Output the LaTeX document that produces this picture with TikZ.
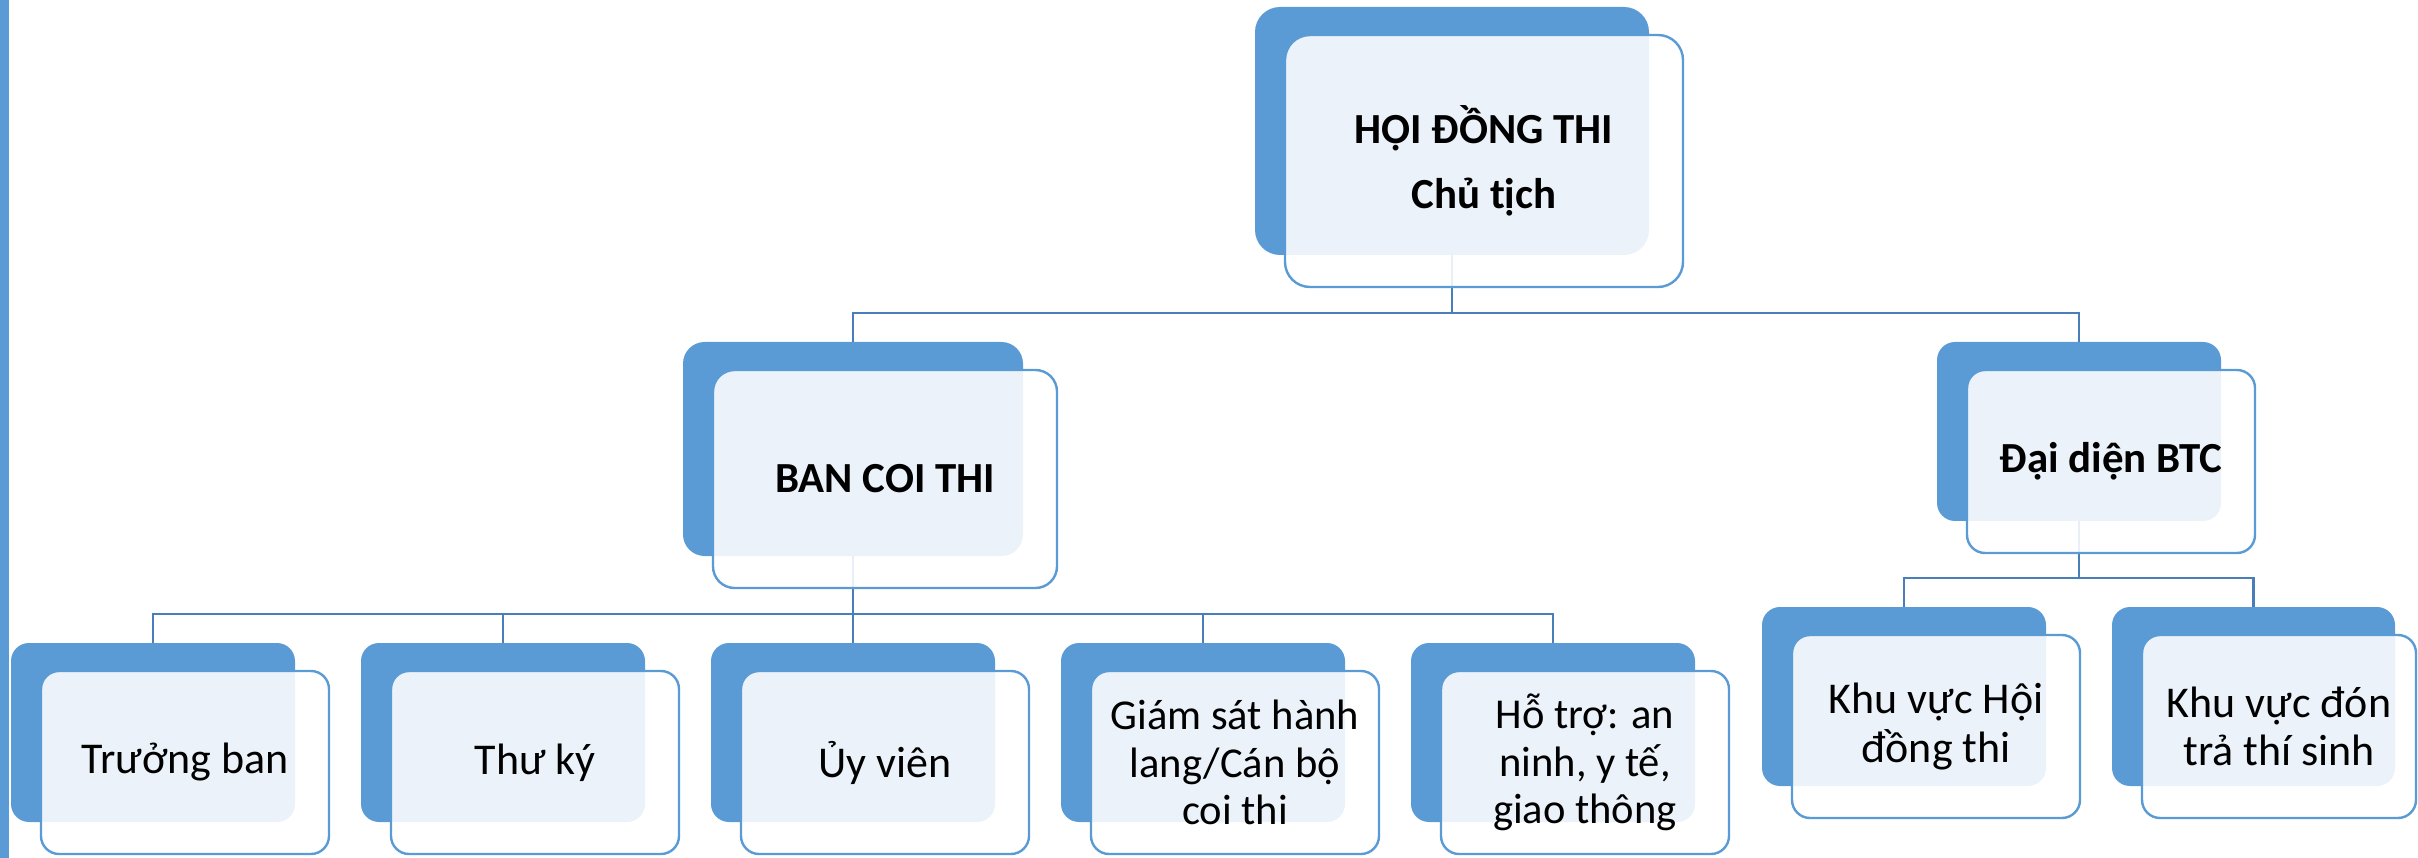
\documentclass[tikz,border=0pt]{standalone}
\usepackage{fontspec}
\setmainfont{Carlito}
\definecolor{bblue}{HTML}{5B9BD5}
\definecolor{cblue}{HTML}{4A7EBB}
\pgfdeclarelayer{back}
\pgfdeclarelayer{conn}
\pgfsetlayers{back,conn,main}
\tikzset{
  backbox/.style={rectangle, fill=bblue, draw=none, inner sep=0pt, outer sep=0pt},
  frontbox/.style={rectangle, fill=white, fill opacity=0.88, text opacity=1, draw=bblue, line width=0.024cm, inner sep=0pt, outer sep=0pt, align=center},
  connline/.style={draw=cblue, line width=0.028cm},
  fbig/.style={font=\fontsize{12.5}{15}\selectfont},
  fmid/.style={font=\fontsize{12.5}{13.8}\selectfont},
  fsmall/.style={font=\fontsize{12.1}{13.5}\selectfont},
  fbold/.style={font=\bfseries\fontsize{12.2}{18.4}\selectfont},
}
% #1 name, #2 left, #3 top, #4 width, #5 height, #6 front width, #7 style, #8 text
\newcommand\orgbox[8]{%
  \begin{pgfonlayer}{back}
    \node[backbox, minimum width=#4*0.01cm, minimum height=#5*0.01cm, rounded corners=#5*0.001cm] (#1) at ({#2+#4/2},{#3+#5/2}) {};
  \end{pgfonlayer}
  \node[frontbox, #7, minimum width=#6*0.01cm, minimum height=(#5+4)*0.01cm, rounded corners=#5*0.001cm] (#1f) at ({#2+30+#6/2},{#3+28+(#5+4)/2}) {#8};
}
\begin{document}
\begin{tikzpicture}[x=0.01cm, y=-0.01cm]
\useasboundingbox (0,0) rectangle (2418,858);
\fill[bblue] (0,0) rectangle (9,858);

\orgbox{top}{1255}{7}{394}{248}{398}{fbold}{HỘI ĐỒNG THI\\Chủ tịch}
\orgbox{ban}{683}{342}{340}{214}{344}{fbold}{BAN COI THI}
\orgbox{dd}{1937}{342}{284}{179}{288}{fbold}{Đại diện BTC}
\orgbox{ca}{11}{643}{284}{179}{288}{fbig}{Trưởng ban}
\orgbox{cb}{361}{643}{284}{179}{288}{fbig}{Thư ký}
\orgbox{cc}{711}{643}{284}{179}{288}{fbig}{Ủy viên}
\orgbox{cd}{1061}{643}{284}{179}{288}{fsmall}{Giám sát hành\\lang/Cán bộ\\coi thi}
\orgbox{ce}{1411}{643}{284}{179}{288}{fsmall}{Hỗ trợ: an\\ninh, y tế,\\giao thông}
\orgbox{ra}{1762}{607}{284}{179}{288}{fmid}{Khu vực Hội\\đồng thi}
\orgbox{rb}{2112}{607}{283}{179}{274}{fmid}{Khu vực đón\\trả thí sinh}

\begin{pgfonlayer}{conn}
  \coordinate (j1) at (1452,313);
  \coordinate (j2) at (853,614);
  \coordinate (j3) at (2079,578);
  \draw[connline] (top.south) -- (j1) -| (ban.north);
  \draw[connline] (j1) -| (dd.north);
  \draw[connline] (ban.south) -- (j2) -| (ca.north);
  \draw[connline] (j2) -| (cb.north);
  \draw[connline] (j2) -- (cc.north);
  \draw[connline] (j2) -| (cd.north);
  \draw[connline] (j2) -| (ce.north);
  \draw[connline] (dd.south) -- (j3) -| (ra.north);
  \draw[connline] (j3) -| (rb.north);
\end{pgfonlayer}
\end{tikzpicture}
\end{document}
